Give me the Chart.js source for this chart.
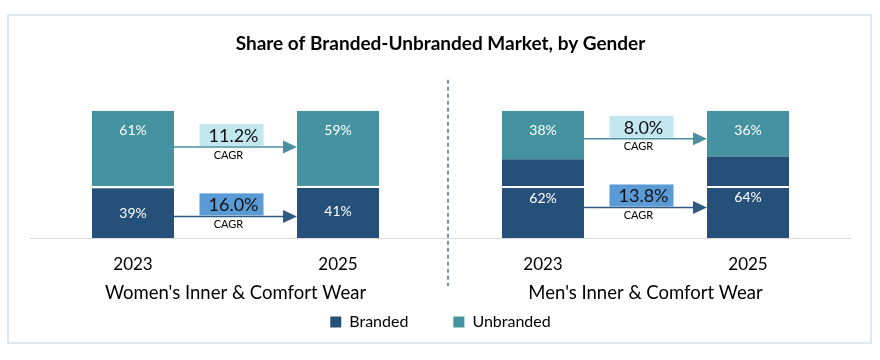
<!DOCTYPE html>
<html>
<head>
<meta charset="utf-8">
<script src="https://cdn.jsdelivr.net/npm/chart.js@4.4.1/dist/chart.umd.min.js"></script>
<style>
  body { margin: 0; background: #fff; }
  #wrap { position: relative; width: 880px; height: 360px; }
  #frame { position: absolute; left: 7px; top: 14px; width: 861px; height: 326px; border: 2px solid #dfe7ef; pointer-events: none; }
</style>
</head>
<body>
<div id="wrap">
  <canvas id="shareChart" width="880" height="360"></canvas>
  <div id="frame"></div>
</div>
<script>
const years = ['2023', '2025', '2023', '2025'];
const segments = ["Women's Inner & Comfort Wear", "Men's Inner & Comfort Wear"];
const branded = [39, 41, 62, 64];
const unbranded = [61, 59, 38, 36];
const cagrUnbranded = ['11.2%', '8.0%'];
const cagrBranded = ['16.0%', '13.8%'];

const FONT = 'Lato, "Open Sans", sans-serif';
const NAVY = '#25507a';
const TEAL = '#4593a1';

// white % labels inside the stacks
const barLabels = {
  id: 'barLabels',
  afterDatasetsDraw(chart) {
    const { ctx } = chart;
    ctx.save();
    ctx.font = '14px ' + FONT;
    ctx.fillStyle = '#fff';
    ctx.textAlign = 'center';
    ctx.textBaseline = 'middle';
    chart.data.datasets.forEach((ds, di) => {
      chart.getDatasetMeta(di).data.forEach((bar, i) => {
        const mid = (bar.y + bar.base) / 2;
        const y = di === 1 ? Math.min(mid, bar.y + 20) : mid;
        ctx.fillText(ds.data[i] + '%', bar.x, y);
      });
    });
    ctx.restore();
  }
};

// CAGR arrows between the two years of each group
const cagrArrows = {
  id: 'cagrArrows',
  afterDraw(chart) {
    const { ctx } = chart;
    const y = chart.scales.y;
    const bars = chart.getDatasetMeta(0).data;
    const levels = [[71.5, 17], [78, 24]]; // arrow heights on the y scale
    [[0, 1], [2, 3]].forEach(([a, b], g) => {
      const x0 = bars[a].x + bars[a].width / 2;
      const x1 = bars[b].x - bars[b].width / 2;
      const cx = (x0 + x1) / 2;
      const rows = [
        { v: levels[g][0], text: cagrUnbranded[g], line: '#4a90a0', box: '#c3e7ef' },
        { v: levels[g][1], text: cagrBranded[g], line: '#2f5a82', box: '#5b9bd5' }
      ];
      rows.forEach(r => {
        const yy = y.getPixelForValue(r.v);
        ctx.save();
        ctx.fillStyle = r.box;
        ctx.fillRect(cx - 4 - 32, yy - 23, 64, 22);
        ctx.strokeStyle = r.line;
        ctx.lineWidth = 1.5;
        ctx.beginPath();
        ctx.moveTo(x0, yy);
        ctx.lineTo(x1 - 12, yy);
        ctx.stroke();
        ctx.fillStyle = r.line;
        ctx.beginPath();
        ctx.moveTo(x1, yy);
        ctx.lineTo(x1 - 14, yy - 6.5);
        ctx.lineTo(x1 - 14, yy + 6.5);
        ctx.closePath();
        ctx.fill();
        ctx.fillStyle = '#111';
        ctx.textAlign = 'center';
        ctx.textBaseline = 'middle';
        ctx.font = '18px ' + FONT;
        ctx.fillText(r.text, cx - 2, yy - 11);
        ctx.font = '11px ' + FONT;
        ctx.fillStyle = '#000';
        ctx.fillText('CAGR', cx - 7, yy + 8);
        ctx.restore();
      });
    });
  }
};

// dashed separator between the women's and men's groups
const divider = {
  id: 'divider',
  afterDraw(chart) {
    const { ctx, chartArea } = chart;
    const x = chart.scales.x;
    const px = (x.getPixelForValue(1) + x.getPixelForValue(2)) / 2 + 7.5;
    ctx.save();
    ctx.strokeStyle = '#2e4d66';
    ctx.lineWidth = 1.2;
    ctx.setLineDash([4, 3]);
    ctx.beginPath();
    ctx.moveTo(px, chartArea.top - 31);
    ctx.lineTo(px, chartArea.bottom + 48);
    ctx.stroke();
    ctx.restore();
  }
};

const ctx = document.getElementById('shareChart').getContext('2d');
new Chart(ctx, {
  type: 'bar',
  data: {
    labels: years,
    datasets: [
      { label: 'Branded', data: branded, backgroundColor: NAVY },
      { label: 'Unbranded', data: unbranded, backgroundColor: TEAL }
    ]
  },
  options: {
    responsive: false,
    animation: false,
    layout: { padding: { left: 30.5, right: 29.5, top: 0, bottom: 20 } },
    datasets: { bar: { barPercentage: 1, categoryPercentage: 0.4 } },
    scales: {
      // axis line; its box also spaces the legend away from the bars
      x: {
        stacked: true,
        grid: { display: false, drawTicks: false },
        border: { display: true, color: '#d9d9d9', width: 1 },
        ticks: { display: false },
        afterFit: s => { s.height = 31; }
      },
      yearAxis: {
        axis: 'x',
        type: 'category',
        labels: years,
        position: { y: 0 },
        offset: true,
        grid: { display: false, drawTicks: false },
        border: { display: false },
        ticks: { color: '#000', font: { family: FONT, size: 17 }, padding: 16 }
      },
      groupAxis: {
        axis: 'x',
        type: 'category',
        labels: segments,
        position: { y: 0 },
        offset: true,
        grid: { display: false, drawTicks: false },
        border: { display: false },
        ticks: { color: '#000', font: { family: FONT, size: 18.5 }, padding: 44 }
      },
      y: {
        stacked: true,
        min: 0,
        max: 100,
        ticks: { display: false },
        grid: { color: '#fff', lineWidth: 2, drawTicks: false, z: 1 },
        border: { display: false },
        afterBuildTicks: s => { s.ticks = [{ value: 40 }]; }
      }
    },
    plugins: {
      title: {
        display: true,
        text: 'Share of Branded-Unbranded Market, by Gender',
        color: '#000',
        font: { family: FONT, size: 19, weight: 'bold' },
        padding: { top: 32, bottom: 56 }
      },
      legend: {
        position: 'bottom',
        labels: { boxWidth: 11, boxHeight: 11, padding: 45, color: '#000', font: { family: FONT, size: 16 } }
      },
      tooltip: { enabled: false }
    }
  },
  plugins: [barLabels, cagrArrows, divider]
});
</script>
</body>
</html>
